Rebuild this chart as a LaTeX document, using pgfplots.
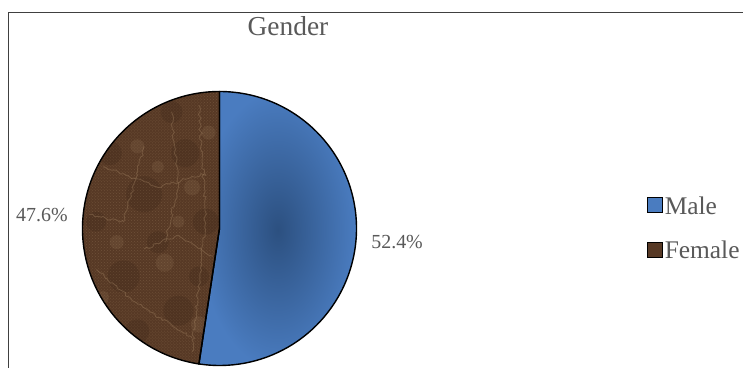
\documentclass[border=0pt]{standalone}
\usepackage{pgfplots}
\pgfplotsset{compat=1.18}
\usepackage{pgfplotstable}
\usepackage{fontspec}
\setmainfont{Liberation Serif}
\usetikzlibrary{patterns,decorations.pathmorphing}

\definecolor{maleouter}{HTML}{4A7CC0}
\definecolor{maleinner}{HTML}{2C5080}
\definecolor{fembase}{HTML}{573925}
\definecolor{femlight}{HTML}{A68766}
\definecolor{femdark}{HTML}{2E1C10}
\definecolor{txt}{HTML}{595959}
\definecolor{framecol}{HTML}{404040}

% share of respondents by gender (percent)
\pgfplotstableread{
label value
Male 52.4
Female 47.6
}\gendertable

\begin{document}
\begin{tikzpicture}[x=1bp,y=1bp]
\useasboundingbox (0,0) rectangle (743,367);
\clip (0,0) rectangle (743,367);
\fill[white] (0,0) rectangle (743,367);
% chart area frame
\draw[framecol, line width=1.2bp] (8.5,-10) rectangle (800,354.5);

\node[anchor=base, text=txt, font=\fontsize{27.5}{27.5}\selectfont] at (288,332) {Gender};

\pgfplotstablegetelem{0}{value}\of\gendertable \let\valM\pgfplotsretval
\pgfplotstablegetelem{1}{value}\of\gendertable \let\valF\pgfplotsretval
\pgfmathsetmacro\fracM{\valM/(\valM+\valF)}
\pgfmathsetmacro\angM{360*\fracM}
\pgfmathsetmacro\splitang{90-\angM}
\pgfmathsetmacro\midM{90-\angM/2}
\pgfmathsetmacro\midF{\splitang-(360-\angM)/2}
\pgfmathsetseed{7}

\begin{axis}[
  at={(82.5bp,1.5bp)}, anchor=south west,
  x=137bp, y=137bp,
  xmin=-1, xmax=1, ymin=-1, ymax=1,
  hide axis, clip=false,
  legend style={at={(axis description cs:2.058,0.625)}, anchor=north west,
    draw=none, fill=none, text=txt, inner sep=0pt,
    font=\fontsize{25.5}{25.5}\selectfont, row sep=21.5bp,
    /tikz/every even column/.style={column sep=6bp}},
  legend cell align=left,
  legend image code/.code={\draw[#1, line width=1.2bp] (0bp,-6.5bp) rectangle (15bp,8.5bp);},
]
\addlegendimage{fill=maleouter, draw=black}
\addlegendimage{fill=fembase, draw=black}
\legend{Male,Female}

% Male slice
\path[inner color=maleinner, outer color=maleouter]
  (axis cs:0,0) -- (axis cs:0,1) arc[start angle=90, end angle=\splitang, radius=137bp] -- cycle;
% Female slice, marble-like fill
\fill[fembase]
  (axis cs:0,0) -- (axis cs:{cos(\splitang)},{sin(\splitang)}) arc[start angle=\splitang, end angle=-270, radius=137bp] -- cycle;
\begin{scope}
\clip (axis cs:0,0) -- (axis cs:{cos(\splitang)},{sin(\splitang)}) arc[start angle=\splitang, end angle=-270, radius=137bp] -- cycle;
\fill[pattern=crosshatch dots, pattern color=femlight, opacity=.3] (axis cs:-1,-1) rectangle (axis cs:0.1,1);
\foreach \px/\py/\r in {-0.55/0.25/18, -0.25/0.55/14, -0.7/-0.35/16, -0.3/-0.6/15,
    -0.8/0.55/12, -0.1/0.05/13, -0.45/-0.1/11, -0.6/-0.75/12, -0.15/-0.35/10,
    -0.9/0.05/10, -0.35/0.85/11}{
  \edef\blot{\noexpand\fill[femdark, opacity=.18] (axis cs:\px,\py) circle[radius=\r bp];}\blot}
\foreach \px/\py/\r in {-0.4/-0.25/9, -0.6/0.6/7, -0.2/0.3/8, -0.75/-0.1/7,
    -0.15/-0.7/8, -0.45/0.45/6, -0.85/-0.5/6, -0.3/0.05/6, -0.08/0.7/7}{
  \edef\blot{\noexpand\fill[femlight, opacity=.16] (axis cs:\px,\py) circle[radius=\r bp];}\blot}
\begin{scope}[femlight, opacity=.35, line width=0.9bp, decoration={random steps, segment length=3bp, amplitude=1.5bp}]
\draw[decorate] (axis cs:-0.85,0.45) -- (axis cs:-0.45,0.3) -- (axis cs:-0.1,0.4);
\draw[decorate] (axis cs:-0.55,-0.15) -- (axis cs:-0.3,-0.05) -- (axis cs:-0.05,-0.2);
\draw[decorate] (axis cs:-0.35,0.85) -- (axis cs:-0.3,0.3) -- (axis cs:-0.4,-0.1);
\draw[decorate] (axis cs:-0.9,-0.3) -- (axis cs:-0.6,-0.55) -- (axis cs:-0.2,-0.8);
\draw[decorate] (axis cs:-0.15,0.9) -- (axis cs:-0.1,0.1) -- (axis cs:-0.2,-0.9);
\draw[decorate] (axis cs:-0.95,0.1) -- (axis cs:-0.7,0.05) -- (axis cs:-0.55,0.6);
\end{scope}
\end{scope}
% slice outlines
\draw[black, line width=1.4bp]
  (axis cs:0,0) -- (axis cs:0,1) arc[start angle=90, end angle=\splitang, radius=137bp] -- cycle;
\draw[black, line width=1.4bp]
  (axis cs:0,0) -- (axis cs:{cos(\splitang)},{sin(\splitang)}) arc[start angle=\splitang, end angle=-270, radius=137bp] -- cycle;

% value labels
\node[text=txt, font=\fontsize{20}{20}\selectfont] at (axis cs:{1.3*cos(\midM)},{1.3*sin(\midM)}) {\valM\%};
\node[text=txt, font=\fontsize{20}{20}\selectfont] at (axis cs:{1.3*cos(\midF)},{1.3*sin(\midF)}) {\valF\%};
\end{axis}
\end{tikzpicture}
\end{document}
